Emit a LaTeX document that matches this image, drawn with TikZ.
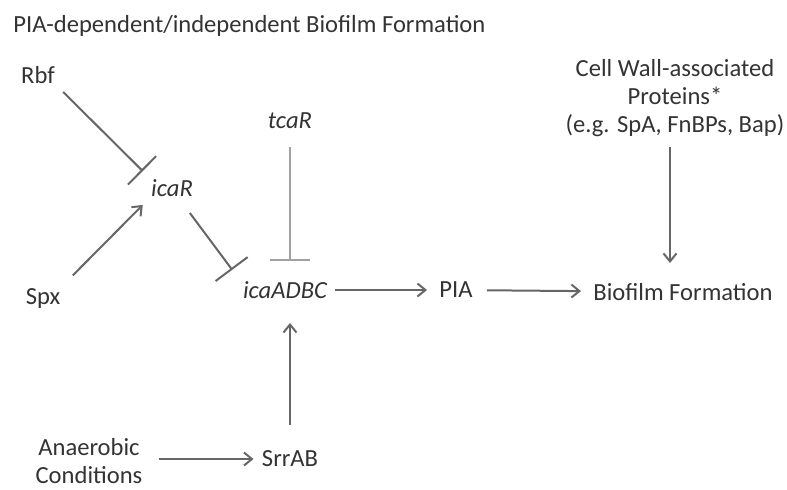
\documentclass[tikz,border=0pt]{standalone}
\usepackage{fontspec}
\setmainfont{Carlito}
\usetikzlibrary{arrows.meta}
\definecolor{labelgray}{HTML}{333333}
\definecolor{linegray}{HTML}{666666}
\definecolor{lightline}{HTML}{A0A0A0}
\tikzset{
  factor/.style={
    text=labelgray,
    font=\fontsize{12.3}{14}\selectfont,
    inner sep=4pt,
    align=center
  },
  activate/.style={
    draw=linegray,
    line width=1pt,
    -{Straight Barb[length=4pt,width=6.5pt]}
  },
  repress/.style={
    draw=linegray,
    line width=1pt,
    -{Bar[width=20pt]}
  }
}

\begin{document}
\begin{tikzpicture}[x=0.5pt,y=-0.5pt]

    \useasboundingbox (0,0) rectangle (787,489);

    % ---------- title ----------
    \node[factor,anchor=west] (title) at (5,26)
      {PIA-dependent/independent Biofilm Formation};

    % ---------- regulators ----------
    \node[factor] (Rbf) at (38,75) {Rbf};
    \node[factor] (Spx) at (43,298) {Spx};
    \node[factor] (icaR) at (172,188) {\itshape icaR};
    \node[factor] (tcaR) at (290,121) {\itshape tcaR};
    \node[factor] (anaer) at (89,461) {Anaerobic\\Conditions};
    \node[factor] (SrrAB) at (290,459) {SrrAB};

    % ---------- operon and products ----------
    \node[factor] (icaADBC) at (285,290) {\itshape icaADBC};
    \node[factor] (PIA) at (456,290) {PIA};
    \node[factor] (bio) at (683,292) {Biofilm Formation};
    \node[factor] (cwa) at (675,98)
      {Cell Wall-associated\\Proteins*\\(e.g. SpA, FnBPs, Bap)};

    % ---------- repression ----------
    \draw[repress] (Rbf.south east) -- (icaR.north west);
    \draw[repress,shorten <=5pt,shorten >=2pt] (icaR.-55) -- (icaADBC.north west);
    \draw[repress,draw=lightline,shorten <=5pt,shorten >=6pt]
      (tcaR.south) -- (tcaR.south |- icaADBC.north);

    % ---------- activation ----------
    \draw[activate,shorten <=3pt] (Spx.north east) -- (icaR.south west);
    \draw[activate,shorten >=2pt] (icaADBC) -- (PIA);
    \draw[activate,shorten <=3pt,shorten >=2pt] (PIA) -- (bio);
    \draw[activate,shorten <=1pt,shorten >=6pt]
      ([xshift=-2.5pt]cwa.south) -- ([xshift=-2.5pt]cwa.south |- bio.north);
    \draw[activate,shorten <=9pt,shorten >=8pt]
      (SrrAB.north) -- (SrrAB.north |- icaADBC.south);
    \draw[activate,shorten <=4pt] (anaer.east |- SrrAB) -- (SrrAB);

\end{tikzpicture}
\end{document}
